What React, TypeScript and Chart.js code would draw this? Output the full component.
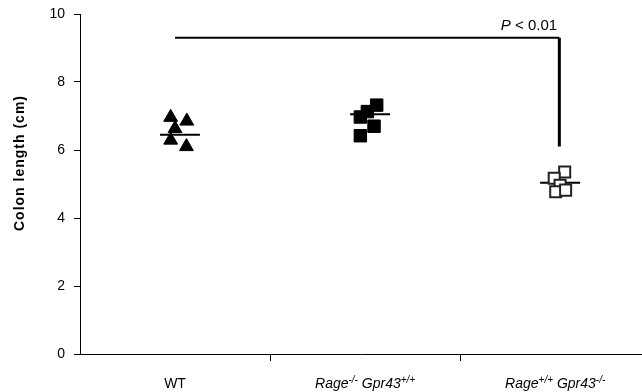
import React, { useEffect, useRef } from 'react';
import { Chart, registerables } from 'chart.js';

Chart.register(...registerables);

const categories = ['WT', 'Rage-/- Gpr43+/+', 'Rage+/+ Gpr43-/-'];
const yTicks = [0, 2, 4, 6, 8, 10];

const wtValues = [6.96, 6.85, 6.63, 6.29, 6.1];
const rageKoValues = [7.32, 7.13, 6.97, 6.7, 6.42];
const gprKoValues = [5.35, 5.17, 4.96, 4.77, 4.82];

const wtJitter = [-0.023, 0.062, 0.0, -0.023, 0.06];
const rageKoJitter = [0.061, 0.012, -0.025, 0.047, -0.025];
const gprKoJitter = [0.05, -0.005, 0.026, 0.003, 0.055];

const groupMeans = [6.45, 7.05, 5.04];

const bracketTop = 9.3;
const bracketBottom = 6.1;
const pText = '< 0.01';

const FONT = '"Liberation Sans", Arial, sans-serif';
const PX_PER_CAT = 190;
const X_MAX = 562 / PX_PER_CAT;
const MEAN_OFF = 0.026;
const MEAN_HALF = 0.105;

type Seg = { t: string; i?: boolean; sup?: boolean };
const labelSegs: Seg[][] = [
  [{ t: 'WT' }],
  [{ t: 'Rage', i: true }, { t: '-/-', i: true, sup: true }, { t: ' Gpr43', i: true }, { t: '+/+', i: true, sup: true }],
  [{ t: 'Rage', i: true }, { t: '+/+', i: true, sup: true }, { t: ' Gpr43', i: true }, { t: '-/-', i: true, sup: true }],
];

function pts(vals: number[], jit: number[], cat: number) {
  return vals.map((v, k) => ({ x: cat + 0.5 + jit[k], y: v }));
}

function meanLine(cat: number) {
  const c = cat + 0.5 + MEAN_OFF;
  return [
    { x: c - MEAN_HALF, y: groupMeans[cat] },
    { x: c + MEAN_HALF, y: groupMeans[cat] },
  ];
}

export default function App() {
  const ref = useRef<HTMLCanvasElement>(null);
  useEffect(() => {
    if (!ref.current) return;
    const textPlugin = {
      id: 'customText',
      afterDraw(chart: any) {
        const ctx: CanvasRenderingContext2D = chart.ctx;
        const xs = chart.scales.x;
        const ys = chart.scales.y;
        ctx.save();
        ctx.fillStyle = '#000';
        ctx.textBaseline = 'alphabetic';
        ctx.textAlign = 'left';
        labelSegs.forEach((segs, ci) => {
          const fontOf = (s: Seg) => `${s.i ? 'italic ' : ''}${s.sup ? 10 : 14}px ${FONT}`;
          let total = 0;
          segs.forEach((s) => {
            ctx.font = fontOf(s);
            total += ctx.measureText(s.t).width;
          });
          const cx = xs.getPixelForValue(ci + 0.5);
          let x = cx - total / 2;
          const base = 388;
          segs.forEach((s) => {
            ctx.font = fontOf(s);
            ctx.fillText(s.t, x, s.sup ? base - 5 : base);
            x += ctx.measureText(s.t).width;
          });
        });
        const rightX = xs.getPixelForValue(2.5 + MEAN_OFF) - 3;
        const py = ys.getPixelForValue(bracketTop) - 8;
        ctx.font = `15px ${FONT}`;
        const restW = ctx.measureText(' ' + pText).width;
        ctx.fillText(' ' + pText, rightX - restW, py);
        ctx.font = `italic 15px ${FONT}`;
        const pW = ctx.measureText('P').width;
        ctx.fillText('P', rightX - restW - pW, py);
        ctx.translate(20, 163);
        ctx.rotate(-Math.PI / 2);
        ctx.font = `bold 14px ${FONT}`;
        (ctx as any).letterSpacing = '1px';
        ctx.textAlign = 'center';
        ctx.textBaseline = 'middle';
        ctx.fillText('Colon length (cm)', 0, 0);
        ctx.restore();
      },
    };

    const lineDs = (data: { x: number; y: number }[], w: number) => ({
      type: 'line' as const,
      data,
      showLine: true,
      borderColor: '#000',
      borderWidth: w,
      pointRadius: 0,
      fill: false,
      order: 2,
      clip: false as any,
    });

    const chart = new Chart(ref.current, {
      type: 'scatter',
      data: {
        datasets: [
          {
            label: categories[0],
            data: pts(wtValues, wtJitter, 0),
            pointStyle: 'triangle',
            pointRadius: 8,
            backgroundColor: '#000',
            borderColor: '#000',
            borderWidth: 1,
            order: 0,
          },
          {
            label: categories[1],
            data: pts(rageKoValues, rageKoJitter, 1),
            pointStyle: 'rect',
            pointRadius: 8.8,
            backgroundColor: '#000',
            borderColor: '#000',
            borderWidth: 1,
            order: 0,
          },
          {
            label: categories[2],
            data: pts(gprKoValues, gprKoJitter, 2),
            pointStyle: 'rect',
            pointRadius: 7.8,
            backgroundColor: '#fff',
            borderColor: '#222',
            borderWidth: 2,
            order: 0,
          },
          lineDs(meanLine(0), 2),
          lineDs(meanLine(1), 2),
          lineDs(meanLine(2), 2),
          lineDs([{ x: 0.5, y: bracketTop }, { x: 2.5 + MEAN_OFF - 0.004, y: bracketTop }], 2),
          lineDs([{ x: 2.5 + MEAN_OFF - 0.004, y: bracketTop }, { x: 2.5 + MEAN_OFF - 0.004, y: bracketBottom }], 3),
        ] as any,
      },
      options: {
        responsive: false,
        animation: false,
        devicePixelRatio: 1,
        layout: { padding: { top: 14, right: 0, left: 0, bottom: 0 } },
        plugins: { legend: { display: false }, tooltip: { enabled: false } },
        scales: {
          x: {
            type: 'linear',
            min: 0,
            max: X_MAX,
            afterBuildTicks: (s: any) => {
              s.ticks = [{ value: 1 }, { value: 2 }];
            },
            ticks: { callback: () => '', font: { size: 14, family: FONT } },
            grid: { drawOnChartArea: false, drawTicks: true, tickLength: 7, color: '#000' },
            border: { color: '#000', width: 1 },
            afterFit: (s: any) => {
              s.height = 38;
              s.paddingLeft = 0;
              s.paddingRight = 0;
            },
          },
          y: {
            min: 0,
            max: 10,
            afterBuildTicks: (s: any) => {
              s.ticks = yTicks.map((v) => ({ value: v }));
            },
            ticks: { padding: 9, color: '#000', font: { size: 14, family: FONT } },
            grid: { drawOnChartArea: false, tickLength: 6, color: '#000' },
            border: { color: '#000', width: 1 },
            afterFit: (s: any) => {
              s.width = 80;
              s.paddingTop = 0;
              s.paddingBottom = 0;
            },
          },
        },
      } as any,
      plugins: [textPlugin],
    });
    return () => chart.destroy();
  }, []);
  return (
    <div style={{ position: 'fixed', left: 0, top: 0, width: 642, height: 392, overflow: 'hidden', background: '#fff' }}>
      <canvas ref={ref} width={652} height={392} style={{ width: 652, height: 392, display: 'block' }} />
    </div>
  );
}
